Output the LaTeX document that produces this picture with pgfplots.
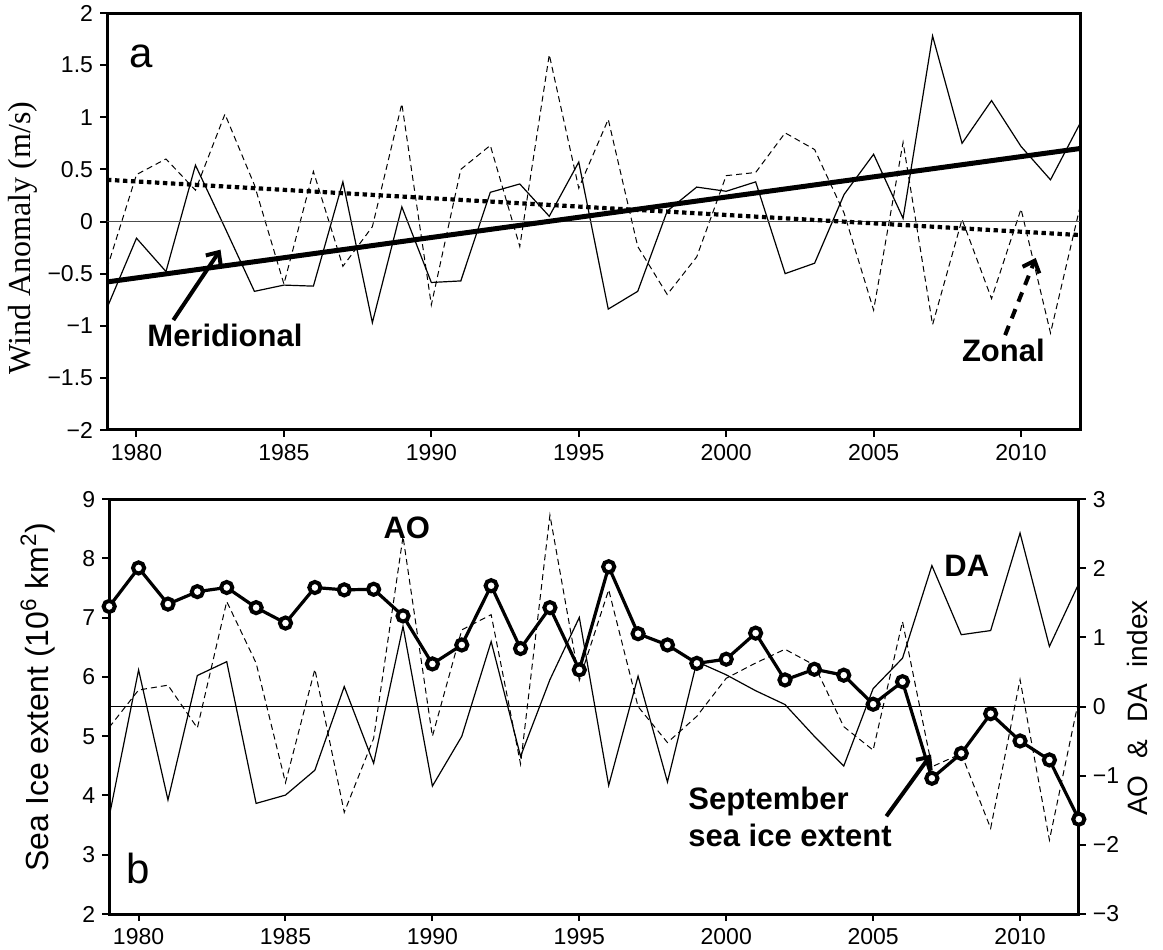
\documentclass[border=0pt]{standalone}
\usepackage{fontspec}
\setmainfont{Liberation Sans}
\newfontfamily\seriffont{Liberation Serif}
\usepackage{pgfplots}
\usepackage{pgfplotstable}
\pgfplotsset{compat=1.18}
\usetikzlibrary{arrows.meta}

\pgfplotstableread{
year mer zon
1979 -0.83 -0.45
1980 -0.16 0.45
1981 -0.48 0.60
1982 0.54 0.30
1983 -0.06 1.03
1984 -0.67 0.35
1985 -0.61 -0.60
1986 -0.62 0.48
1987 0.38 -0.43
1988 -0.97 -0.05
1989 0.14 1.13
1990 -0.585 -0.80
1991 -0.57 0.50
1992 0.28 0.73
1993 0.36 -0.24
1994 0.05 1.60
1995 0.57 0.32
1996 -0.84 0.98
1997 -0.67 -0.24
1998 0.10 -0.70
1999 0.33 -0.34
2000 0.29 0.44
2001 0.38 0.47
2002 -0.50 0.85
2003 -0.40 0.69
2004 0.26 0.08
2005 0.645 -0.85
2006 0.03 0.76
2007 1.78 -0.99
2008 0.75 0.02
2009 1.16 -0.74
2010 0.72 0.12
2011 0.40 -1.07
2012 0.94 0.14
}\windtable

\pgfplotstableread{
year ice ao da
1979 7.19 -0.30 -1.59
1980 7.84 0.24 0.53
1981 7.23 0.31 -1.35
1982 7.44 -0.31 0.45
1983 7.51 1.52 0.65
1984 7.17 0.63 -1.40
1985 6.91 -1.10 -1.28
1986 7.51 0.54 -0.92
1987 7.47 -1.53 0.29
1988 7.48 -0.46 -0.82
1989 7.03 2.46 1.16
1990 6.22 -0.43 -1.15
1991 6.54 1.11 -0.43
1992 7.54 1.33 0.94
1993 6.48 -0.83 -0.72
1994 7.17 2.77 0.39
1995 6.12 0.38 1.29
1996 7.86 1.69 -1.14
1997 6.73 0.00 0.44
1998 6.54 -0.52 -1.09
1999 6.23 -0.14 0.65
2000 6.30 0.41 0.46
2001 6.74 0.63 0.23
2002 5.95 0.83 0.03
2003 6.13 0.60 -0.43
2004 6.03 -0.29 -0.86
2005 5.54 -0.63 0.26
2006 5.92 1.23 0.70
2007 4.29 -0.87 2.04
2008 4.71 -0.68 1.04
2009 5.38 -1.76 1.10
2010 4.92 0.39 2.51
2011 4.60 -1.93 0.87
2012 3.60 0.10 1.78
}\icetable

\begin{document}
\begin{tikzpicture}
\path[use as bounding box] (0,0) rectangle (581.5pt,474.5pt);
\pgfplotsset{
  every axis/.append style={
    scale only axis, anchor=south west, xmin=1979, xmax=2012,
    axis line style={line width=1.5pt},
    tick align=outside, major tick length=3.5pt,
    tick style={line width=1pt, black},
    tick label style={font=\fontsize{11.5}{13.5}\selectfont},
    xtick={1980,1985,...,2010},
    xticklabels={1980,1985,1990,1995,2000,2005,2010},
    minor tick num=0,
  }
}
% ---------- panel a ----------
\begin{axis}[at={(53.5pt,259.5pt)}, width=486.5pt, height=208.5pt,
  ymin=-2, ymax=2,
  ytick={-2,-1.5,-1,-0.5,0,0.5,1,1.5,2},
  yticklabels={−2,−1.5,−1,−0.5,0,0.5,1,1.5,2},
  xtick pos=left, ytick pos=left]
\addplot[black, line width=0.6pt] table[x=year,y=mer]{\windtable};
\addplot[black, line width=0.5pt, dash pattern=on 3pt off 2pt] table[x=year,y=zon]{\windtable};
\addplot[black!70, line width=0.6pt] coordinates {(1979,0) (2012,0)};
\addplot[black, line width=2.5pt] coordinates {(1979,-0.58) (2012,0.70)};
\addplot[black, line width=2.1pt, dash pattern=on 2.2pt off 1.8pt] coordinates {(1979,0.40) (2012,-0.13)};
\node[font=\fontsize{21}{24}\selectfont, inner sep=0pt] at (axis cs:1980.17,1.58) {a};
\node[font=\bfseries\fontsize{15.5}{18.5}\selectfont, inner sep=0pt] at (axis cs:1983.0,-1.09) {Meridional};
\draw[line width=2pt, -{Straight Barb[length=5pt,width=9pt]}] (axis cs:1981.25,-0.945) -- (axis cs:1982.85,-0.27);
\node[font=\bfseries\fontsize{15.5}{18.5}\selectfont, inner sep=0pt] at (axis cs:2009.4,-1.24) {Zonal};
\draw[line width=2pt, dash pattern=on 5pt off 4pt, -{Straight Barb[length=5pt,width=9pt]}] (axis cs:2009.46,-1.09) -- (axis cs:2010.5,-0.35);
\end{axis}
% ---------- panel b, right scale ----------
\begin{axis}[at={(54.6pt,17.5pt)}, width=484.8pt, height=207.4pt,
  ymin=-3, ymax=3,
  ytick={-3,-2,-1,0,1,2,3},
  yticklabels={−3,−2,−1,0,1,2,3},
  ytick pos=right, xtick=\empty]
\addplot[black, line width=0.5pt, dash pattern=on 3pt off 2pt] table[x=year,y=ao]{\icetable};
\addplot[black, line width=0.6pt] table[x=year,y=da]{\icetable};
\end{axis}
% ---------- panel b, left scale ----------
\begin{axis}[at={(54.6pt,17.5pt)}, width=484.8pt, height=207.4pt,
  ymin=2, ymax=9,
  ytick={2,3,4,5,6,7,8,9},
  yticklabels={2,3,4,5,6,7,8,9},
  xtick pos=left, ytick pos=left]
\addplot[black, line width=0.6pt] coordinates {(1979,5.5) (2012,5.5)};
\addplot[black, line width=1.6pt, mark=*, mark size=2.8pt,
  mark options={fill=white, draw=black, line width=2pt, solid}] table[x=year,y=ice]{\icetable};
\node[font=\fontsize{21}{24}\selectfont, inner sep=0pt] at (axis cs:1980.0,2.77) {b};
\node[font=\bfseries\fontsize{15.5}{18.5}\selectfont, inner sep=0pt] at (axis cs:1989.13,8.52) {AO};
\node[font=\bfseries\fontsize{15.5}{18.5}\selectfont, inner sep=0pt] at (axis cs:2008.19,7.88) {DA};
\node[font=\bfseries\fontsize{15.5}{18.5}\selectfont, inner sep=0pt, anchor=west, align=left] at (axis cs:1998.70,3.63) {September\\sea ice extent};
\draw[line width=2pt, -{Straight Barb[length=5pt,width=9pt]}] (axis cs:2005.45,3.65) -- (axis cs:2006.97,4.69);
\end{axis}
% ---------- axis titles ----------
\node[rotate=90, font=\seriffont\fontsize{16}{18}\selectfont] at (11.5pt,355.5pt) {Wind Anomaly (m/s)};
\node[rotate=90, font=\fontsize{16}{18}\selectfont] at (19pt,126pt) {Sea Ice extent (10\textsuperscript{6} km\textsuperscript{2})};
\node[rotate=90, font=\fontsize{14}{16}\selectfont] at (568.5pt,120.5pt) {AO\hspace{0.6em}\&\hspace{0.6em}DA\hspace{0.6em}index};
\end{tikzpicture}
\end{document}
